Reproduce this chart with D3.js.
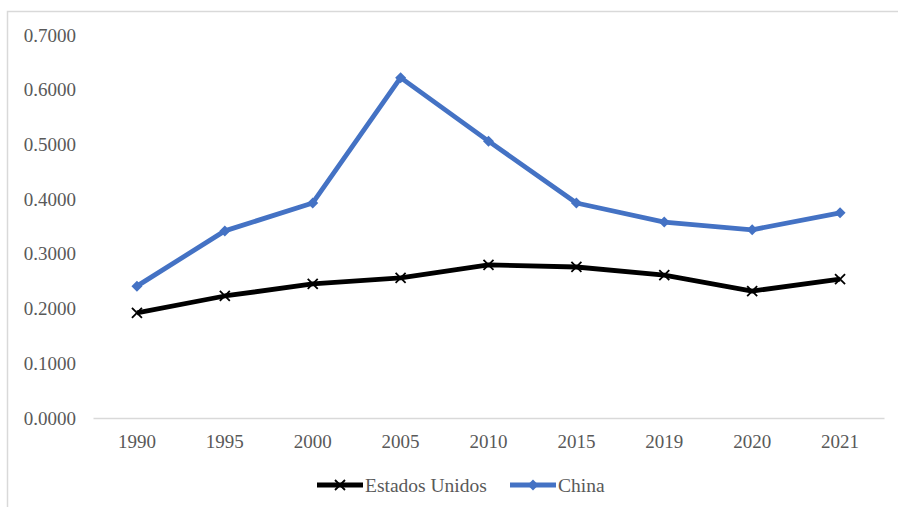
<!DOCTYPE html>
<html>
<head>
<meta charset="utf-8">
<style>
  body { margin: 0; background: #fff; }
  svg text { font-family: "Liberation Serif", "Times New Roman", serif; fill: #595959; }
</style>
<script src="https://d3js.org/d3.v7.min.js"></script>
</head>
<body>
<svg width="898" height="507"></svg>
<script>
var years = ["1990", "1995", "2000", "2005", "2010", "2015", "2019", "2020", "2021"];
var estadosUnidos = [0.192, 0.223, 0.245, 0.256, 0.280, 0.276, 0.261, 0.232, 0.254];
var china = [0.241, 0.342, 0.393, 0.622, 0.506, 0.393, 0.358, 0.344, 0.375];
var yTicks = [0, 0.1, 0.2, 0.3, 0.4, 0.5, 0.6, 0.7];

var series = [
  { name: "Estados Unidos", values: estadosUnidos, color: "#000000", marker: "x" },
  { name: "China", values: china, color: "#4472C4", marker: "diamond" }
];

var svg = d3.select("svg");

// chart frame (only top and left edges are inside the picture)
svg.append("rect")
  .attr("x", 7.5).attr("y", 11.5)
  .attr("width", 1000).attr("height", 1000)
  .attr("fill", "none")
  .attr("stroke", "#d9d9d9")
  .attr("stroke-width", 1.5);

var plotLeft = 93, plotRight = 884, plotTop = 35, plotBottom = 418;

var x = d3.scaleBand().domain(years).range([plotLeft, plotRight]);
var y = d3.scaleLinear().domain([0, 0.7]).range([plotBottom, plotTop]);

// y labels
var yAxis = svg.append("g")
  .attr("transform", "translate(" + plotLeft + ",0)")
  .call(d3.axisLeft(y).tickValues(yTicks).tickFormat(d3.format(".4f")).tickSize(0).tickPadding(17));
yAxis.select(".domain").remove();
yAxis.selectAll("text").attr("font-size", 19).attr("fill", "#595959")
  .style("font-family", "'Liberation Serif', serif");

// x axis
var xAxis = svg.append("g")
  .attr("transform", "translate(0," + plotBottom + ")")
  .call(d3.axisBottom(x).tickSize(0).tickPadding(17));
xAxis.select(".domain").attr("stroke", "#d9d9d9").attr("stroke-width", 1.5);
xAxis.selectAll("text").attr("font-size", 19).attr("fill", "#595959")
  .style("font-family", "'Liberation Serif', serif");

var line = d3.line()
  .x(function(d, i) { return x(years[i]) + x.bandwidth() / 2; })
  .y(function(d) { return y(d); });

function drawMarker(g, type, cx, cy, color) {
  if (type == "x") {
    var s = 5;
    g.append("path")
      .attr("d", "M" + (cx - s) + "," + (cy - s) + "L" + (cx + s) + "," + (cy + s) +
                 "M" + (cx - s) + "," + (cy + s) + "L" + (cx + s) + "," + (cy - s))
      .attr("stroke", color).attr("stroke-width", 1.8).attr("fill", "none");
  } else {
    var r = 5.5;
    g.append("path")
      .attr("d", "M" + cx + "," + (cy - r) + "L" + (cx + r) + "," + cy + "L" + cx + "," + (cy + r) + "L" + (cx - r) + "," + cy + "Z")
      .attr("fill", color);
  }
}

series.forEach(function(s) {
  svg.append("path")
    .datum(s.values)
    .attr("d", line)
    .attr("fill", "none")
    .attr("stroke", s.color)
    .attr("stroke-width", 4.8)
    .attr("stroke-linejoin", "round");
  var mg = svg.append("g");
  s.values.forEach(function(v, i) {
    drawMarker(mg, s.marker, x(years[i]) + x.bandwidth() / 2, y(v), s.color);
  });
});

// legend
var legendX = [317, 510];
series.forEach(function(s, i) {
  var lg = svg.append("g").attr("transform", "translate(" + legendX[i] + ",485)");
  lg.append("line").attr("x1", 0).attr("x2", 46).attr("y1", 0).attr("y2", 0)
    .attr("stroke", s.color).attr("stroke-width", 4.8);
  drawMarker(lg, s.marker, 23, 0, s.color);
  lg.append("text").attr("x", 48).attr("y", 6.5).attr("font-size", 19.5).text(s.name);
});
</script>
</body>
</html>
